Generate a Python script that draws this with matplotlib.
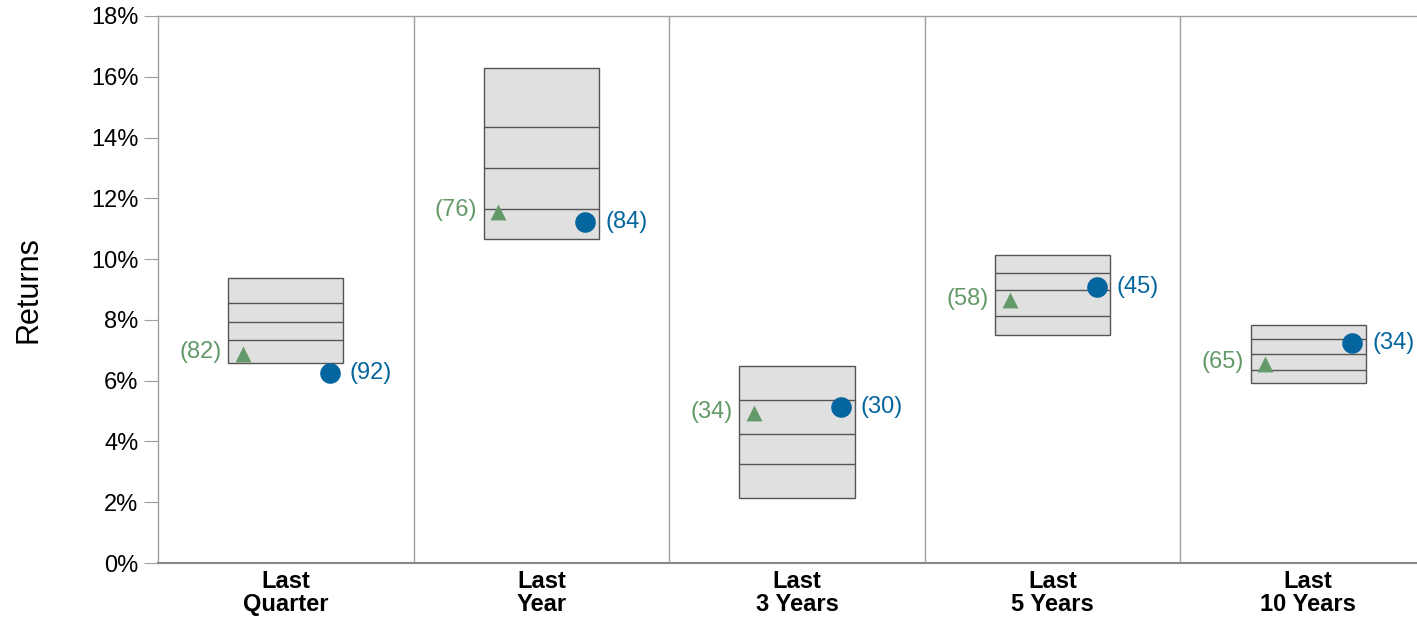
import matplotlib.pyplot as plt
import numpy as np

plt.rcParams['font.family'] = ['Liberation Sans', 'DejaVu Sans']

# periods and the return ranges (top, 25th, median, 75th, bottom percentiles)
periodos = ['Last\nQuarter', 'Last\nYear', 'Last\n3 Years', 'Last\n5 Years', 'Last\n10 Years']
p_top = [9.39, 16.28, 6.49, 10.13, 7.83]
p_25 = [8.55, 14.34, 5.36, 9.55, 7.38]
p_50 = [7.93, 12.99, 4.23, 8.97, 6.89]
p_75 = [7.33, 11.64, 3.25, 8.13, 6.34]
p_bottom = [6.57, 10.65, 2.13, 7.50, 5.91]

# index (triangle) and portfolio (circle) returns with their percentile ranks
indice = [6.88, 11.56, 4.93, 8.65, 6.55]
rank_indice = [82, 76, 34, 58, 65]
cartera = [6.26, 11.21, 5.14, 9.09, 7.25]
rank_cartera = [92, 84, 30, 45, 34]

verde = '#64996a'
azul = '#05669f'
gris = '#a0a0a0'

fig = plt.figure(figsize=(14.17, 6.18), dpi=100)
ax = fig.add_axes([158/1417, 55/618, 1278/1417, 547/618])

x = np.arange(len(periodos))
ancho = 0.45

# cajas de rango
ax.bar(x, np.array(p_top) - np.array(p_bottom), bottom=p_bottom, width=ancho,
       color='#e0e0e0', edgecolor='#555555', linewidth=1.0, zorder=2)
for lineas in (p_25, p_50, p_75):
    ax.hlines(lineas, x - ancho/2, x + ancho/2, color='#555555', linewidth=1.0, zorder=3)

# marcadores
ax.scatter(x - 0.168, indice, marker='^', s=130, color=verde, zorder=4, linewidths=0)
ax.scatter(x + 0.172, cartera, marker='o', s=220, color=azul, zorder=4, linewidths=0)

for i in range(len(periodos)):
    ax.text(x[i] - ancho/2 - 0.025, indice[i] + 0.05, f'({rank_indice[i]})', color=verde,
            fontsize=17, ha='right', va='center')
    ax.text(x[i] + 0.172 + 0.078, cartera[i], f'({rank_cartera[i]})', color=azul,
            fontsize=17, ha='left', va='center')

# separadores entre periodos
for b in x[:-1] + 0.5:
    ax.axvline(b, color=gris, linewidth=1.0, zorder=1)

ax.set_xlim(-0.5, len(periodos) - 0.5)
ax.set_ylim(0, 18)
ax.set_yticks(np.arange(0, 19, 2))
ax.set_yticklabels([f'{v}%' for v in range(0, 19, 2)], fontsize=17)
ax.set_xticks(x)
ax.set_xticklabels(periodos, fontsize=17, fontweight='bold', linespacing=1.0)
ax.tick_params(axis='x', length=0, pad=5)
ax.tick_params(axis='y', length=10, color=gris, pad=4)
ax.set_ylabel('Returns', fontsize=22, labelpad=34)

for s in ax.spines.values():
    s.set_color(gris)
    s.set_linewidth(1.0)
ax.spines['bottom'].set_color('#888888')
ax.spines['bottom'].set_linewidth(1.5)

fig.savefig('out.png', dpi=100)
